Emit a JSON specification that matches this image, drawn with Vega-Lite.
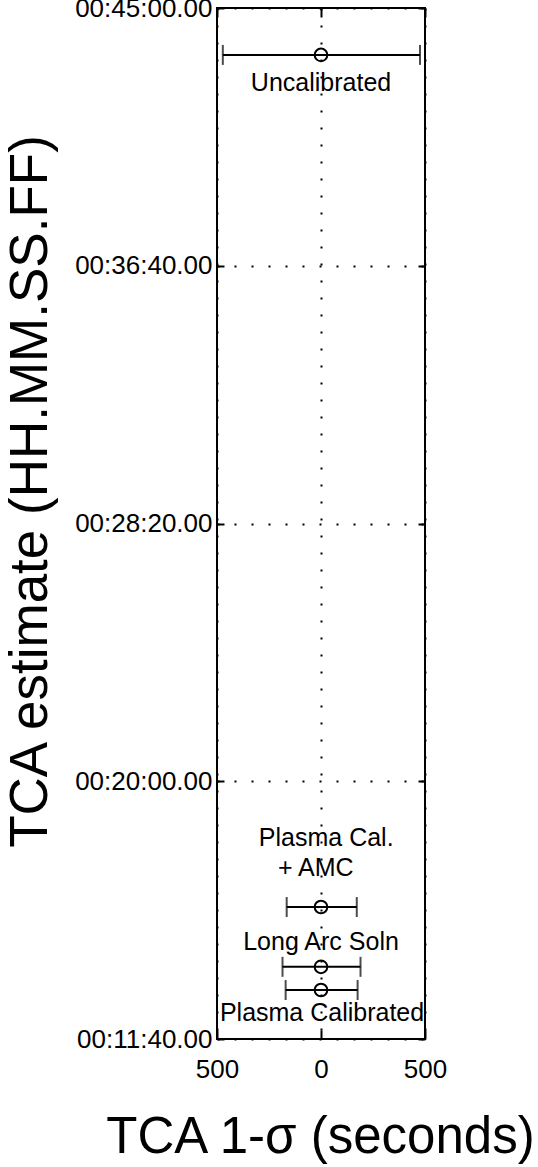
{
  "$schema": "https://vega.github.io/schema/vega-lite/v6.json",
  "width": 208,
  "height": 1031,
  "autosize": {"type": "none"},
  "padding": {"left": 217, "top": 8, "right": 113, "bottom": 128},
  "background": "white",
  "config": {
    "view": {"stroke": "black", "strokeWidth": 2},
    "font": "Liberation Sans",
    "axis": {"domain": false, "labelColor": "black", "titleColor": "black", "tickColor": "black", "tickWidth": 2, "titleFontWeight": "normal"}
  },
  "datasets": {
    "est": [
      {"name": "Uncalibrated", "t": 2609, "est": 0, "lo": -472, "hi": 476},
      {"name": "Plasma Cal. + AMC", "t": 956, "est": 0, "lo": -165, "hi": 172},
      {"name": "Long Arc Soln", "t": 840, "est": 0, "lo": -185, "hi": 190},
      {"name": "Plasma Calibrated", "t": 795, "est": 0, "lo": -170, "hi": 176}
    ],
    "notes": [
      {"text": "Uncalibrated", "t": 2554, "x": 0},
      {"text": "Plasma Cal.", "t": 1090, "x": 25},
      {"text": "+ AMC", "t": 1032, "x": -25},
      {"text": "Long Arc Soln", "t": 888, "x": 0},
      {"text": "Plasma Calibrated", "t": 750, "x": 5}
    ]
  },
  "resolve": {"axis": {"x": "independent", "y": "independent"}},
  "layer": [
    {
      "data": {"name": "est"},
      "mark": {"type": "rule", "color": "black", "strokeWidth": 2},
      "encoding": {
        "x": {
          "field": "lo", "type": "quantitative",
          "scale": {"domain": [-500, 500], "nice": false, "zero": false},
          "axis": {
            "orient": "bottom",
            "title": "TCA 1-σ (seconds)",
            "values": [-500, 0, 500],
            "labelExpr": "abs(datum.value)",
            "labelFlush": false,
            "labelFontSize": 26,
            "labelPadding": 26,
            "tickSize": -9,
            "grid": true,
            "gridColor": "black",
            "gridOpacity": 1,
            "gridWidth": 2,
            "gridDash": [2, 15],
            "titleFontSize": 51,
            "titleX": 103,
            "titleY": 98,
            "titleAnchor": null,
            "titleAlign": "center",
            "titleBaseline": "middle"
          }
        },
        "x2": {"field": "hi"},
        "y": {
          "field": "t", "type": "quantitative",
          "scale": {"domain": [700, 2700], "nice": false, "zero": false},
          "axis": {
            "orient": "left",
            "title": "TCA estimate (HH.MM.SS.FF)",
            "values": [700, 1200, 1700, 2200, 2700],
            "labelExpr": "'00:' + (floor(datum.value/60) < 10 ? '0' : '') + floor(datum.value/60) + ':' + (datum.value % 60 < 10 ? '0' : '') + (datum.value % 60) + '.00'",
            "labelFontSize": 26,
            "labelPadding": 12,
            "labelBaseline": "middle",
            "tickSize": -7,
            "grid": true,
            "gridColor": "black",
            "gridOpacity": 1,
            "gridWidth": 2,
            "gridDash": [2, 15],
            "titleFontSize": 53,
            "titleAngle": -90,
            "titleX": -187,
            "titleY": 483,
            "titleAlign": "center",
            "titleBaseline": "middle"
          }
        }
      }
    },
    {
      "data": {"name": "est"},
      "mark": {"type": "tick", "orient": "vertical", "size": 20, "thickness": 2, "color": "black"},
      "encoding": {
        "x": {"field": "lo", "type": "quantitative", "axis": null},
        "y": {"field": "t", "type": "quantitative", "axis": null}
      }
    },
    {
      "data": {"name": "est"},
      "mark": {"type": "tick", "orient": "vertical", "size": 20, "thickness": 2, "color": "black"},
      "encoding": {
        "x": {"field": "hi", "type": "quantitative", "axis": null},
        "y": {"field": "t", "type": "quantitative", "axis": null}
      }
    },
    {
      "data": {"name": "est"},
      "mark": {"type": "point", "shape": "circle", "filled": false, "size": 160, "strokeWidth": 2, "color": "black", "opacity": 1},
      "encoding": {
        "x": {
          "field": "est", "type": "quantitative",
          "axis": {"orient": "top", "values": [-500, 0, 500], "labels": false, "title": null, "tickSize": -9, "grid": false}
        },
        "y": {
          "field": "t", "type": "quantitative",
          "axis": {"orient": "right", "values": [700, 1200, 1700, 2200, 2700], "labels": false, "title": null, "tickSize": -7, "grid": false}
        }
      }
    },
    {
      "data": {"name": "notes"},
      "mark": {"type": "text", "fontSize": 25, "font": "Liberation Sans", "color": "black", "align": "center", "baseline": "middle"},
      "encoding": {
        "x": {"field": "x", "type": "quantitative", "axis": null},
        "y": {"field": "t", "type": "quantitative", "axis": null},
        "text": {"field": "text"}
      }
    }
  ]
}
